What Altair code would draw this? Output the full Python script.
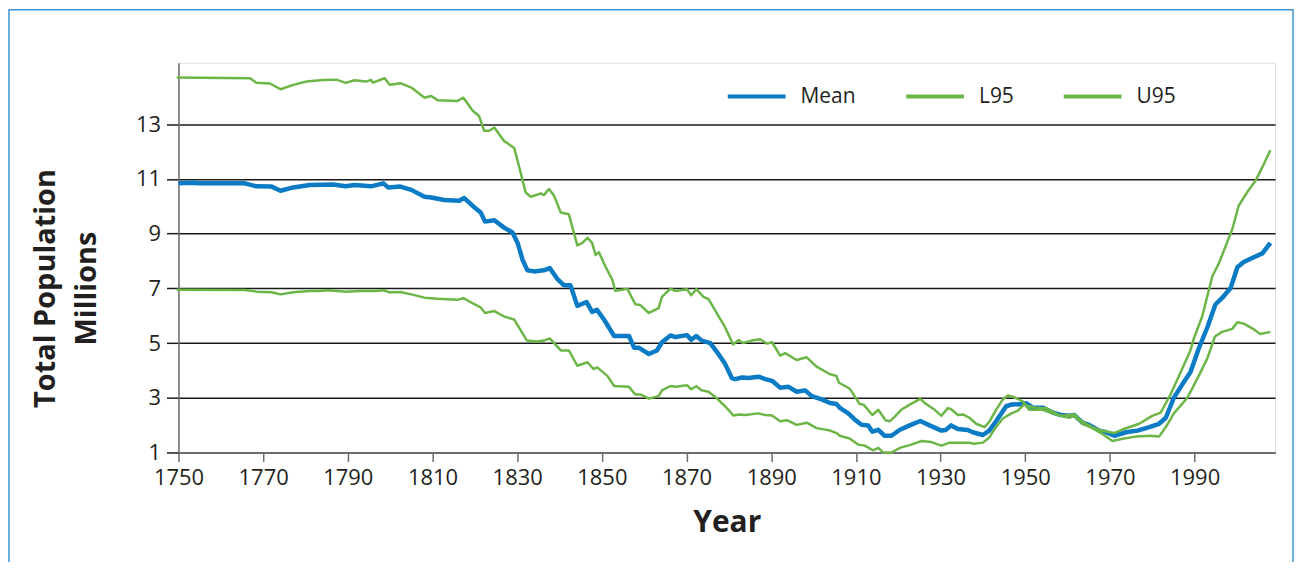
import altair as alt
import pandas as pd

# ---- data ----
mean_years = [1750, 1753.5, 1754.7, 1765.7, 1768.4, 1772.0, 1774.1, 1777.1, 1781.0, 1786.5, 1789.5, 1791.6,
              1795.5, 1798.4, 1799.5, 1802.4, 1805.0, 1808.1, 1809.7, 1812.8, 1816.3, 1817.5, 1819.9, 1821.4,
              1822.4, 1824.6, 1826.9, 1828.9, 1830.1, 1831.3, 1832.4, 1834.0, 1836.3, 1837.7, 1839.5, 1841.1,
              1842.6, 1844.2, 1846.4, 1847.7, 1848.8, 1850.5, 1852.9, 1856.4, 1857.6, 1858.7, 1861.1, 1863.0,
              1864.2, 1866.2, 1867.4, 1870.1, 1871.1, 1872.3, 1873.6, 1875.6, 1877.2, 1879.1, 1880.7, 1881.5,
              1883.1, 1884.6, 1887.0, 1888.6, 1890.2, 1892.1, 1894.1, 1896.0, 1898.0, 1899.6, 1901.9, 1903.9,
              1905.4, 1906.3, 1908.2, 1909.7, 1911.3, 1912.9, 1913.9, 1915.3, 1916.8, 1918.4, 1920.4, 1922.7,
              1925.2, 1927.4, 1930.2, 1931.2, 1932.5, 1934.1, 1936.4, 1937.6, 1940.0, 1941.5, 1943.1, 1945.5,
              1946.7, 1949.4, 1950.2, 1951.8, 1954.1, 1956.5, 1958.4, 1960.4, 1961.6, 1963.5, 1965.1, 1967.5,
              1969.1, 1971.0, 1973.8, 1976.5, 1979.3, 1981.6, 1983.2, 1985.1, 1987.1, 1989.0, 1991.0, 1993.0,
              1994.9, 1996.5, 1998.5, 2000.1, 2001.6, 2003.6, 2006.0, 2007.9]
mean_vals = [10.84, 10.86, 10.84, 10.84, 10.73, 10.72, 10.57, 10.69, 10.78, 10.80, 10.73, 10.78,
             10.73, 10.84, 10.69, 10.72, 10.60, 10.35, 10.32, 10.23, 10.20, 10.30, 9.96, 9.77,
             9.44, 9.49, 9.22, 9.04, 8.66, 8.03, 7.66, 7.62, 7.66, 7.74, 7.34, 7.11,
             7.11, 6.36, 6.50, 6.14, 6.22, 5.86, 5.26, 5.26, 4.83, 4.83, 4.60, 4.73,
             5.03, 5.28, 5.22, 5.29, 5.12, 5.26, 5.09, 5.00, 4.67, 4.24, 3.72, 3.68,
             3.74, 3.72, 3.77, 3.68, 3.62, 3.37, 3.40, 3.22, 3.27, 3.06, 2.94, 2.81,
             2.77, 2.62, 2.43, 2.21, 2.01, 1.99, 1.76, 1.83, 1.61, 1.61, 1.83, 1.99,
             2.15, 1.99, 1.80, 1.82, 1.99, 1.86, 1.82, 1.74, 1.64, 1.80, 2.14, 2.69,
             2.75, 2.77, 2.80, 2.64, 2.64, 2.46, 2.37, 2.34, 2.37, 2.09, 2.01, 1.80,
             1.74, 1.61, 1.74, 1.80, 1.93, 2.05, 2.27, 3.00, 3.49, 3.93, 4.81, 5.57,
             6.41, 6.65, 7.01, 7.77, 7.96, 8.11, 8.28, 8.66]

u95_years = [1749.6, 1766.9, 1768.4, 1771.6, 1774.1, 1777.1, 1780.2, 1784.1, 1787.3, 1789.5, 1791.6, 1794.3,
             1795.5, 1795.9, 1798.7, 1799.9, 1802.4, 1805.0, 1808.1, 1809.7, 1811.2, 1815.9, 1817.3, 1819.5,
             1821.0, 1822.2, 1823.4, 1824.6, 1826.9, 1829.3, 1830.5, 1832.0, 1833.2, 1835.6, 1836.3, 1837.5,
             1838.7, 1840.3, 1842.2, 1844.2, 1845.4, 1846.6, 1847.7, 1848.5, 1849.3, 1850.9, 1852.4, 1853.2,
             1854.8, 1856.0, 1857.9, 1859.1, 1861.1, 1863.4, 1864.2, 1866.2, 1867.4, 1870.1, 1871.1, 1872.3,
             1874.0, 1875.2, 1877.2, 1879.1, 1881.0, 1882.3, 1883.3, 1885.4, 1887.4, 1889.0, 1890.2, 1892.1,
             1893.3, 1896.0, 1898.4, 1900.7, 1903.9, 1905.4, 1906.0, 1908.5, 1909.7, 1910.9, 1911.8, 1913.9,
             1915.3, 1917.0, 1918.0, 1919.2, 1920.7, 1922.7, 1925.2, 1926.6, 1928.6, 1930.2, 1931.7, 1932.5,
             1934.1, 1935.3, 1936.8, 1938.4, 1940.4, 1941.5, 1943.1, 1944.7, 1945.9, 1947.0, 1949.4, 1950.2,
             1952.5, 1954.9, 1956.8, 1958.4, 1960.4, 1961.6, 1963.5, 1965.9, 1967.9, 1971.0, 1973.3, 1976.9,
             1980.0, 1982.0, 1984.3, 1986.7, 1989.0, 1989.8, 1991.8, 1994.2, 1995.7, 1998.1, 1998.9, 2000.4,
             2002.4, 2004.4, 2006.0, 2007.9]
u95_vals = [14.71, 14.68, 14.52, 14.49, 14.28, 14.44, 14.56, 14.62, 14.63, 14.51, 14.61, 14.56,
            14.62, 14.52, 14.68, 14.44, 14.50, 14.34, 13.97, 14.03, 13.88, 13.85, 13.97, 13.49,
            13.30, 12.76, 12.76, 12.88, 12.39, 12.13, 11.42, 10.51, 10.35, 10.47, 10.41, 10.63,
            10.39, 9.77, 9.71, 8.57, 8.66, 8.85, 8.66, 8.22, 8.32, 7.78, 7.34, 6.91,
            6.95, 6.99, 6.42, 6.39, 6.10, 6.28, 6.69, 6.99, 6.90, 6.97, 6.75, 6.97,
            6.69, 6.61, 6.08, 5.58, 4.95, 5.11, 5.00, 5.09, 5.14, 4.98, 5.03, 4.54,
            4.63, 4.38, 4.48, 4.14, 3.86, 3.80, 3.55, 3.34, 3.06, 2.77, 2.75, 2.37,
            2.56, 2.18, 2.14, 2.31, 2.56, 2.75, 2.96, 2.77, 2.56, 2.34, 2.62, 2.58,
            2.37, 2.39, 2.27, 2.05, 1.93, 2.12, 2.56, 2.94, 3.08, 3.04, 2.87, 2.72,
            2.64, 2.62, 2.46, 2.34, 2.37, 2.39, 2.12, 1.93, 1.80, 1.71, 1.86, 2.05,
            2.34, 2.46, 3.12, 3.93, 4.73, 5.16, 5.98, 7.45, 7.90, 8.85, 9.16, 10.02,
            10.51, 10.94, 11.43, 12.05]

l95_years = [1749.6, 1765.7, 1768.4, 1772.0, 1774.1, 1777.1, 1781.0, 1783.4, 1785.3, 1789.6, 1792.8, 1796.7,
             1798.4, 1799.7, 1802.4, 1805.0, 1808.1, 1811.2, 1815.9, 1817.3, 1819.9, 1821.4, 1822.4, 1824.6,
             1826.9, 1829.3, 1830.8, 1832.3, 1834.8, 1836.3, 1837.7, 1840.3, 1842.2, 1844.2, 1846.6, 1848.0,
             1848.9, 1851.3, 1852.9, 1856.4, 1857.9, 1859.1, 1861.1, 1863.4, 1864.2, 1866.2, 1867.4, 1870.1,
             1871.1, 1872.3, 1873.6, 1875.2, 1877.2, 1879.1, 1881.1, 1882.3, 1883.8, 1887.0, 1888.6, 1890.2,
             1892.1, 1893.7, 1896.0, 1898.4, 1900.7, 1903.9, 1905.6, 1906.2, 1908.5, 1910.5, 1912.1, 1914.0,
             1915.3, 1916.4, 1918.4, 1920.4, 1922.7, 1925.5, 1927.8, 1930.2, 1932.1, 1934.5, 1936.8, 1937.8,
             1940.0, 1941.5, 1943.1, 1944.7, 1946.7, 1948.2, 1949.8, 1951.0, 1954.1, 1956.5, 1958.4, 1960.4,
             1961.6, 1963.5, 1965.9, 1967.9, 1970.6, 1973.3, 1976.1, 1979.6, 1981.6, 1983.2, 1985.1, 1988.3,
             1991.0, 1993.0, 1994.8, 1996.5, 1998.9, 2000.1, 2001.6, 2003.6, 2005.5, 2007.9]
l95_vals = [6.95, 6.94, 6.88, 6.86, 6.78, 6.86, 6.90, 6.90, 6.93, 6.88, 6.90, 6.90,
            6.93, 6.86, 6.87, 6.78, 6.66, 6.62, 6.58, 6.64, 6.42, 6.30, 6.10, 6.17,
            5.97, 5.86, 5.47, 5.09, 5.06, 5.09, 5.17, 4.73, 4.73, 4.17, 4.30, 4.05,
            4.11, 3.80, 3.43, 3.40, 3.12, 3.12, 2.97, 3.06, 3.27, 3.43, 3.40, 3.46,
            3.31, 3.42, 3.27, 3.22, 2.97, 2.69, 2.35, 2.39, 2.37, 2.43, 2.37, 2.35,
            2.14, 2.18, 2.01, 2.09, 1.89, 1.80, 1.70, 1.61, 1.51, 1.29, 1.25, 1.08,
            1.17, 1.00, 1.00, 1.17, 1.27, 1.42, 1.38, 1.25, 1.36, 1.36, 1.36, 1.32,
            1.36, 1.55, 1.93, 2.24, 2.43, 2.52, 2.77, 2.56, 2.56, 2.43, 2.34, 2.27,
            2.34, 2.05, 1.89, 1.71, 1.42, 1.51, 1.58, 1.61, 1.58, 1.93, 2.43, 3.00,
            3.81, 4.44, 5.24, 5.41, 5.52, 5.76, 5.71, 5.54, 5.33, 5.41]

series_order = ["Mean", "L95", "U95"]
x_ticks = [1750, 1770, 1790, 1810, 1830, 1850, 1870, 1890, 1910, 1930, 1950, 1970, 1990]
y_ticks = [1, 3, 5, 7, 9, 11, 13]

rows = []
for name, yrs, vals in [("Mean", mean_years, mean_vals),
                        ("L95", l95_years, l95_vals),
                        ("U95", u95_years, u95_vals)]:
    for yr, v in zip(yrs, vals):
        rows.append({"Year": yr, "Value": v, "Series": name})
df = pd.DataFrame(rows)

FONT = "Open Sans"
TXT = "#231f20"
BLUE = "#0a7bc4"
GREEN = "#6cb648"

x_enc = alt.X("Year:Q",
              scale=alt.Scale(domain=[1750, 2009], nice=False, zero=False),
              axis=alt.Axis(values=x_ticks, format="d", grid=False, labelFlush=False,
                            tickColor="#6d6d6d", tickSize=9, tickWidth=1.5,
                            domainColor="#6d6d6d", domainWidth=2,
                            labelFont=FONT, labelFontSize=22, labelColor=TXT, labelPadding=6,
                            title="Year", titleFont=FONT, titleFontSize=30, titleFontWeight="bold",
                            titleColor=TXT, titleBaseline="alphabetic", titleY=79))
y_enc = alt.Y("Value:Q",
              scale=alt.Scale(domain=[1, 15.25], nice=False, zero=False),
              axis=alt.Axis(values=y_ticks, grid=True, gridColor="#1a1a1a", gridWidth=1.5,
                            labelFlush=False, tickColor="#1a1a1a", tickWidth=1.5, tickSize=12,
                            domainColor="#6d6d6d", domainWidth=1.5,
                            labelFont=FONT, labelFontSize=22, labelColor=TXT, labelPadding=6,
                            title=["Total Population", "Millions"], titleFont=FONT, titleFontSize=29,
                            titleFontWeight="bold", titleColor=TXT, titleAngle=270,
                            titleAlign="center", titleBaseline="middle", titleLineHeight=41,
                            titleX=-133, titleY=226))
color_enc = alt.Color("Series:N",
                      scale=alt.Scale(domain=series_order, range=[BLUE, GREEN, GREEN]),
                      legend=alt.Legend(
                          orient="none", legendX=549, legendY=3, direction="horizontal", title=None,
                          symbolType="stroke", symbolSize=3364, symbolStrokeWidth=4,
                          labelFont=FONT, labelFontSize=21, labelColor=TXT,
                          labelOffset=13, columnPadding=42))

base = alt.Chart(df).encode(x=x_enc, y=y_enc, color=color_enc, detail="Series:N")

mean_line = base.transform_filter(alt.datum.Series == "Mean").mark_line(
    strokeWidth=4.5, strokeJoin="round")
band_lines = base.transform_filter(alt.datum.Series != "Mean").mark_line(
    strokeWidth=2.5, strokeJoin="round")

border = alt.Chart(pd.DataFrame({"k": [0]})).mark_rect(
    fillOpacity=0, stroke="#3d95d2", strokeWidth=1.5
).encode(x=alt.value(-170), x2=alt.value(1118), y=alt.value(-53), y2=alt.value(700))

chart = alt.layer(border, mean_line, band_lines).properties(
    width=1100, height=391,
    autosize=alt.AutoSizeParams(type="none"),
    padding={"left": 171, "top": 54, "right": 19, "bottom": 109},
).configure_view(stroke="#6d6d6d", strokeWidth=1.5).configure(background="white")

chart.save("out.html", embed_options={"renderer": "svg", "actions": False})
